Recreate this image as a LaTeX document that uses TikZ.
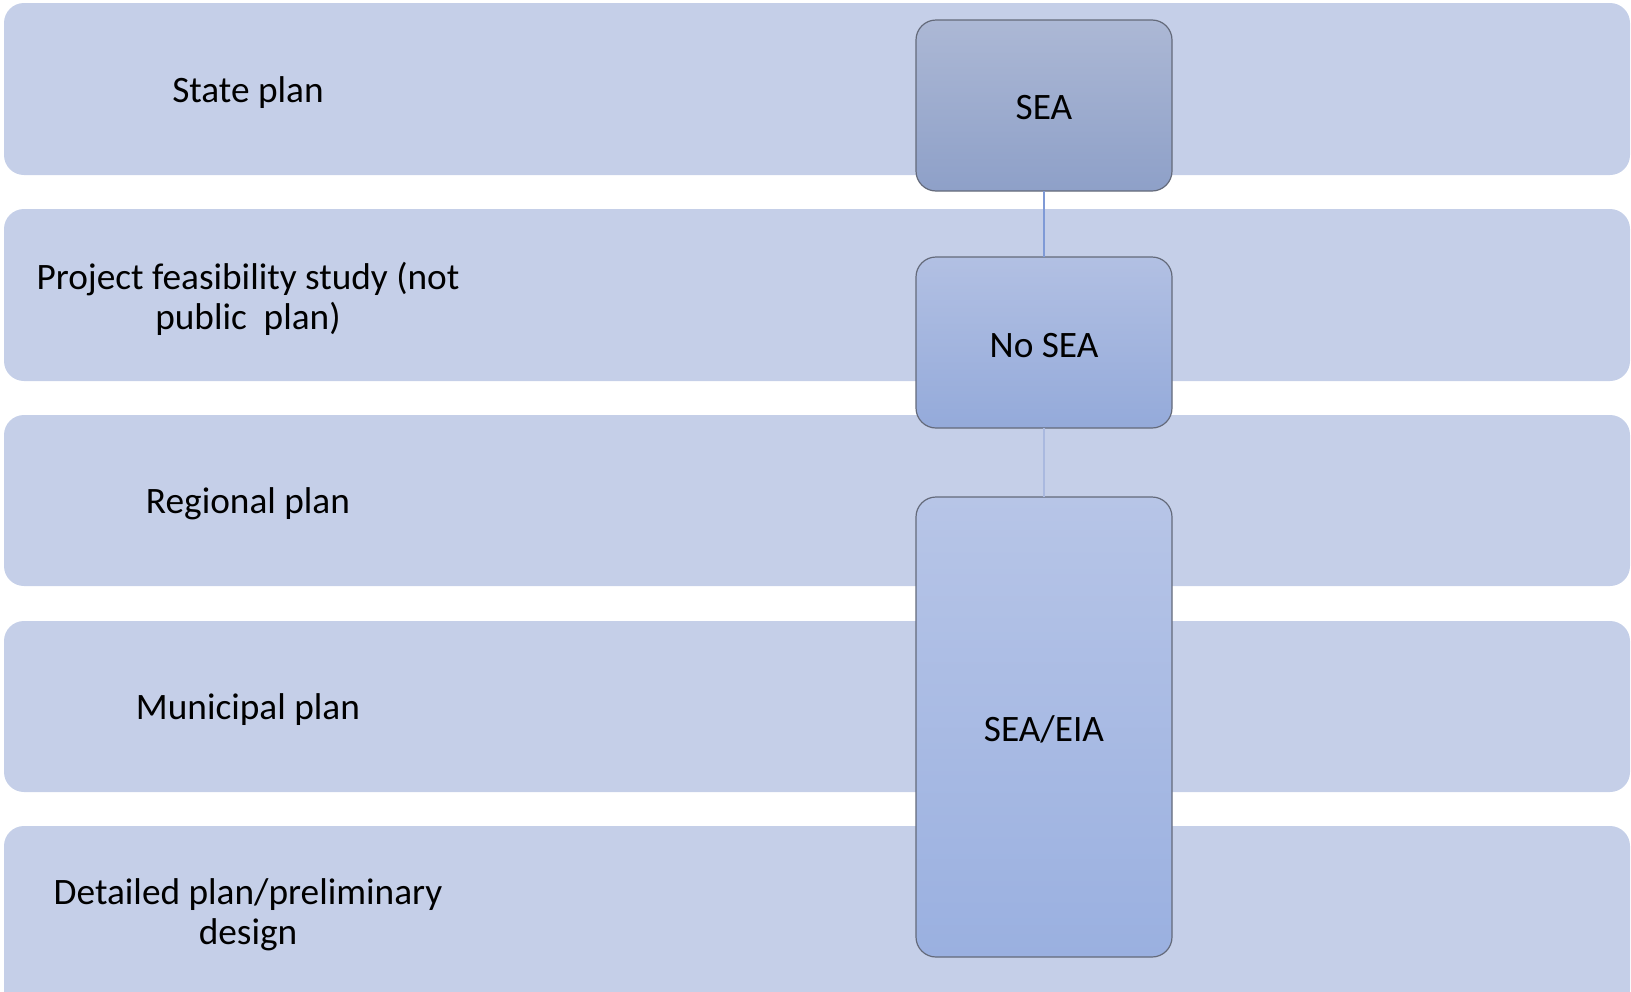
\documentclass[tikz,border=0pt]{standalone}
\usepackage{fontspec}
\setmainfont{Carlito}
\definecolor{bandfill}{HTML}{C5CFE8}
\definecolor{boxline}{HTML}{646A7A}
\definecolor{linkA}{HTML}{7F9AD6}
\definecolor{linkB}{HTML}{AAB9DF}
\tikzset{
  band/.style={fill=bandfill, draw=none, rounded corners=20pt},
  label/.style={font=\fontsize{37.3}{40}\selectfont, align=center, text=black},
  stage/.style={draw=boxline, line width=1.2pt, rounded corners=20pt, shading=axis},
}
\begin{document}
\begin{tikzpicture}[x=1pt,y=-1pt]
  \useasboundingbox (0,0) rectangle (1631,991);
  % horizontal bands, one per planning level
  \fill[band] (4,3) rectangle (1630,175);
  \fill[band] (4,209) rectangle (1630,381);
  \fill[band] (4,415) rectangle (1630,586);
  \fill[band] (4,621) rectangle (1630,792);
  \fill[band] (4,826) rectangle (1630,1010);
  % level names
  \node[label] (l1) at (248,93) {State plan};
  \node[label] (l2) at (248,299) {Project feasibility study (not\\public\ \ plan)};
  \node[label] (l3) at (248,504) {Regional plan};
  \node[label] (l4) at (248,710) {Municipal plan};
  \node[label] (l5) at (248,915) {Detailed plan/preliminary\\design};
  % assessment boxes
  \path[stage, top color={rgb,255:red,172;green,184;blue,213}, bottom color={rgb,255:red,142;green,160;blue,200}]
    (916,20) rectangle (1172,191);
  \node[label] (sea) at (1044,108) {SEA};
  \path[stage, top color={rgb,255:red,178;green,192;blue,227}, bottom color={rgb,255:red,148;green,170;blue,218}]
    (916,257) rectangle (1172,428);
  \node[label] (nosea) at (1044,346) {No SEA};
  \path[stage, top color={rgb,255:red,183;green,197;blue,231}, bottom color={rgb,255:red,154;green,176;blue,224}]
    (916,497) rectangle (1172,957);
  \node[label] (seaeia) at (1044,729) {SEA/EIA};
  % points on the box edges where the links meet them
  \coordinate (seaB) at (1044,191);
  \coordinate (noseaT) at (1044,257);
  \coordinate (noseaB) at (1044,428);
  \coordinate (seaeiaT) at (1044,497);
  \draw[linkA, line width=2.2pt] (seaB) -- (noseaT);
  \draw[linkB, line width=2.2pt] (noseaB) -- (seaeiaT);
\end{tikzpicture}
\end{document}
